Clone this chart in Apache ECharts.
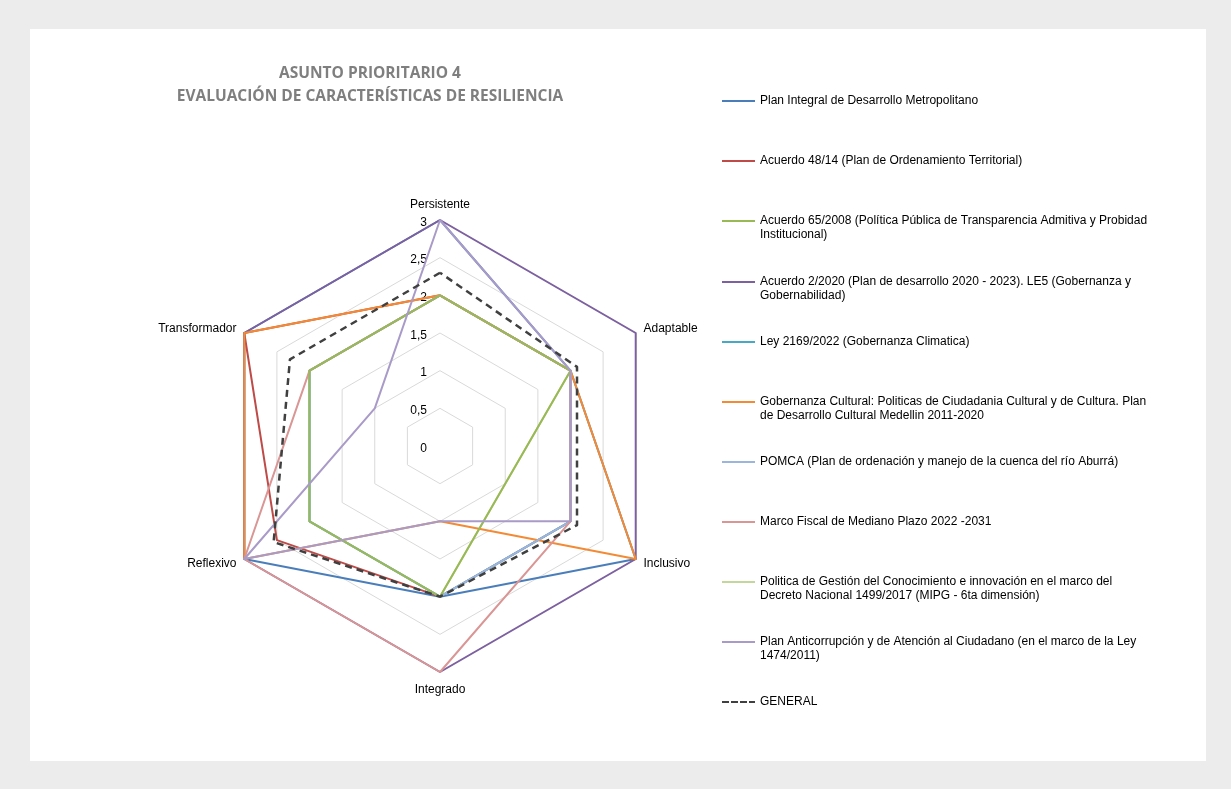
<!DOCTYPE html>
<html>
<head>
<meta charset="utf-8">
<script src="https://cdn.jsdelivr.net/npm/echarts@6/dist/echarts.min.js"></script>
<style>
  html, body { margin: 0; padding: 0; background: #ececec; }
  #card { position: absolute; left: 30px; top: 29px; width: 1176px; height: 732px; background: #ffffff; }
  #chart { position: absolute; left: 0; top: 0; width: 1231px; height: 789px; }
</style>
</head>
<body>
<div id="card"></div>
<div id="chart"></div>
<script>
// Categories in clockwise order starting at the top
const categories = ['Persistente', 'Adaptable', 'Inclusivo', 'Integrado', 'Reflexivo', 'Transformador'];
const tickLabels = ['0', '0,5', '1', '1,5', '2', '2,5', '3'];

const seriesNames = [
  'Plan Integral de Desarrollo Metropolitano',
  'Acuerdo 48/14 (Plan de Ordenamiento Territorial)',
  'Acuerdo 65/2008 (Política Pública de Transparencia Admitiva y Probidad\nInstitucional)',
  'Acuerdo 2/2020 (Plan de desarrollo 2020 - 2023). LE5 (Gobernanza y\nGobernabilidad)',
  'Ley 2169/2022 (Gobernanza Climatica)',
  'Gobernanza Cultural: Politicas de Ciudadania Cultural y de Cultura. Plan\nde Desarrollo Cultural Medellin 2011-2020',
  'POMCA (Plan de ordenación y manejo de la cuenca del río Aburrá)',
  'Marco Fiscal de Mediano Plazo 2022 -2031',
  'Politica de Gestión del Conocimiento e innovación en el marco del\nDecreto Nacional 1499/2017 (MIPG - 6ta dimensión)',
  'Plan Anticorrupción y de Atención al Ciudadano (en el marco de la Ley\n1474/2011)',
  'GENERAL'
];

// values per category (clockwise order above)
const planIntegral   = [3, 2, 3, 2, 3, 3];
const acuerdo48      = [2, 2, 2, 2, 2.5, 3];
const acuerdo65      = [2, 2, 1, 2, 2, 2];
const acuerdo2       = [3, 3, 3, 3, 3, 3];
const ley2169        = [2, 2, 2, 2, 2, 2];
const gobCultural    = [2, 2, 3, 1, 3, 3];
const pomca          = [2, 2, 2, 2, 2, 2];
const marcoFiscal    = [2, 2, 2, 3, 3, 2];
const politicaGestion= [2, 2, 1, 2, 2, 2];
const anticorrupcion = [3, 2, 2, 1, 3, 1];
const general        = [2.3, 2.1, 2.1, 2.0, 2.55, 2.3];

const seriesValues = [planIntegral, acuerdo48, acuerdo65, acuerdo2, ley2169, gobCultural,
  pomca, marcoFiscal, politicaGestion, anticorrupcion, general];

const colors = ['#4a7ebb', '#be4b48', '#98b954', '#7d60a0', '#46aac5', '#f38a34',
  '#9bb5dc', '#d99694', '#c3d69b', '#a99bc8', '#404040'];
// drawing order (higher drawn on top)
const zOrder = [1, 2, 10, 4, 5, 6, 7, 8, 3, 11, 12];

const legendCenters = [100, 160, 220, 281, 341, 401, 461, 521, 581, 641, 701];

// ECharts radar lays indicators out counter-clockwise; reorder
const order = [0, 5, 4, 3, 2, 1];
const reorder = arr => order.map(i => arr[i]);

const indicator = reorder(categories).map((c, i) => ({
  name: c, min: 0, max: 3,
  axisLabel: { show: i === 0 }
}));

const series = seriesNames.map((name, i) => ({
  type: 'radar',
  name: name,
  symbol: 'none',
  silent: true,
  z: 2,
  lineStyle: {
    color: colors[i],
    width: i === 10 ? 2.5 : 2,
    type: i === 10 ? [7, 5] : 'solid'
  },
  itemStyle: { color: colors[i] },
  data: [{ name: name, value: reorder(seriesValues[i]) }],
  _order: zOrder[i]
}));
series.sort((a, b) => a._order - b._order);
series.forEach(s => { delete s._order; });

const dashIcon = 'path://M0,0h7v2h-7zM9,0h7v2h-7zM18,0h7v2h-7zM27,0h6v2h-6z';

const legends = seriesNames.map((name, i) => {
  const twoLines = name.indexOf('\n') >= 0;
  return {
    left: 722,
    top: legendCenters[i] - (twoLines ? 21 : 7) + 1,
    padding: 0,
    orient: 'vertical',
    selectedMode: false,
    itemWidth: 33,
    itemHeight: 2,
    icon: i === 10 ? dashIcon : 'rect',
    data: [name],
    formatter: function (n) { return twoLines ? '\u00a0\n' + n : n; },
    textStyle: {
      fontFamily: 'Liberation Sans, Arial, sans-serif',
      fontSize: 12,
      color: '#000000',
      lineHeight: 14
    }
  };
});

const baseFont = { color: '#000000', fontFamily: 'Liberation Sans, Arial, sans-serif', fontSize: 12 };

const chart = echarts.init(document.getElementById('chart'), null, { renderer: 'canvas' });
chart.setOption({
  backgroundColor: 'transparent',
  animation: false,
  title: {
    text: 'ASUNTO PRIORITARIO 4\nEVALUACIÓN DE CARACTERÍSTICAS DE RESILIENCIA',
    left: 365,
    top: 57,
    textAlign: 'center',
    textStyle: {
      fontFamily: 'Open Sans, sans-serif',
      fontWeight: 'bold',
      fontSize: 15.5,
      color: '#7f7f7f',
      lineHeight: 23
    }
  },
  legend: legends,
  radar: {
    center: [440, 446],
    radius: 226,
    startAngle: 90,
    shape: 'polygon',
    splitNumber: 6,
    nameGap: 9,
    axisName: Object.assign({}, baseFont, {
      formatter: function (n) { return n === 'Integrado' ? '{b|' + n + '}' : n; },
      rich: { b: Object.assign({}, baseFont, { padding: [3, 0, 0, 0] }) }
    }),
    axisLine: { show: false },
    axisTick: { show: false },
    splitArea: { show: false },
    splitLine: { lineStyle: { color: '#d9d9d9', width: 1 } },
    axisLabel: Object.assign({}, baseFont, {
      show: true,
      align: 'right',
      margin: 13,
      formatter: function (v) { return '{t|' + tickLabels[Math.round(v * 2)] + '}'; },
      rich: { t: Object.assign({}, baseFont, { padding: [5, 0, 0, 0] }) }
    }),
    indicator: indicator
  },
  series: series
});
</script>
</body>
</html>
